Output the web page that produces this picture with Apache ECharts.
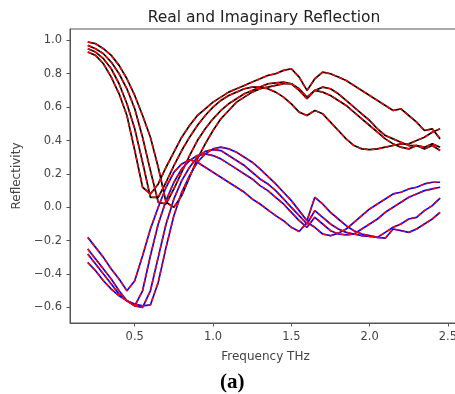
<!DOCTYPE html>
<html>
<head>
<meta charset="utf-8">
<script src="https://cdn.jsdelivr.net/npm/echarts@6/dist/echarts.min.js"></script>
<style>
html, body { margin: 0; padding: 0; background: #fff; }
#chart { width: 455px; height: 394px; }
</style>
</head>
<body>
<div id="chart"></div>
<script>
var freq = [0.20, 0.25, 0.30, 0.35, 0.40, 0.45, 0.50, 0.55, 0.60, 0.65, 0.70, 0.75, 0.80, 0.85, 0.90, 0.95,
    1.00, 1.05, 1.10, 1.15, 1.20, 1.25, 1.30, 1.35, 1.40, 1.45, 1.50, 1.55, 1.60, 1.65, 1.70, 1.75,
    1.80, 1.85, 1.90, 1.95, 2.00, 2.05, 2.10, 2.15, 2.20, 2.25, 2.30, 2.35, 2.40, 2.45];

// real part (black, measured)
var real1 = [0.93, 0.91, 0.86, 0.78, 0.68, 0.55, 0.34, 0.12, 0.08, 0.14, 0.24, 0.33, 0.42, 0.49, 0.55, 0.59,
    0.63, 0.66, 0.69, 0.71, 0.73, 0.75, 0.77, 0.79, 0.80, 0.82, 0.83, 0.78, 0.70, 0.77, 0.81, 0.80,
    0.78, 0.76, 0.73, 0.70, 0.67, 0.64, 0.61, 0.58, 0.59, 0.55, 0.51, 0.46, 0.47, 0.41];
var real2 = [0.95, 0.93, 0.89, 0.83, 0.74, 0.62, 0.47, 0.27, 0.06, 0.06, 0.15, 0.25, 0.34, 0.42, 0.49, 0.55,
    0.60, 0.64, 0.67, 0.69, 0.71, 0.72, 0.72, 0.71, 0.69, 0.66, 0.62, 0.57, 0.55, 0.58, 0.56, 0.51,
    0.46, 0.41, 0.37, 0.35, 0.345, 0.35, 0.36, 0.37, 0.38, 0.38, 0.40, 0.42, 0.45, 0.47];
var real3 = [0.97, 0.95, 0.92, 0.87, 0.80, 0.71, 0.59, 0.42, 0.22, 0.03, 0.02, 0.11, 0.21, 0.31, 0.40, 0.47,
    0.53, 0.58, 0.62, 0.65, 0.68, 0.70, 0.72, 0.74, 0.745, 0.75, 0.74, 0.70, 0.65, 0.70, 0.72, 0.71,
    0.68, 0.64, 0.60, 0.56, 0.52, 0.47, 0.43, 0.41, 0.39, 0.37, 0.37, 0.36, 0.38, 0.36];
var real4 = [0.99, 0.98, 0.95, 0.91, 0.85, 0.77, 0.67, 0.55, 0.42, 0.24, 0.03, 0.00, 0.07, 0.18, 0.29, 0.38,
    0.46, 0.53, 0.58, 0.63, 0.66, 0.69, 0.71, 0.72, 0.73, 0.74, 0.74, 0.71, 0.66, 0.70, 0.69, 0.67,
    0.64, 0.61, 0.57, 0.53, 0.49, 0.45, 0.41, 0.38, 0.36, 0.35, 0.37, 0.35, 0.37, 0.34];

// imaginary part (blue, measured)
var imag1 = [-0.18, -0.24, -0.30, -0.37, -0.43, -0.50, -0.44, -0.29, -0.13, 0.00, 0.12, 0.21, 0.26, 0.285, 0.27, 0.24,
    0.21, 0.18, 0.15, 0.12, 0.09, 0.05, 0.02, -0.015, -0.05, -0.08, -0.12, -0.145, -0.09, -0.12, -0.16, -0.17,
    -0.155, -0.13, -0.09, -0.05, -0.01, 0.02, 0.05, 0.08, 0.09, 0.11, 0.12, 0.14, 0.15, 0.15];
var imag2 = [-0.25, -0.31, -0.37, -0.43, -0.50, -0.56, -0.59, -0.50, -0.29, -0.10, 0.04, 0.15, 0.23, 0.28, 0.31, 0.32,
    0.31, 0.29, 0.26, 0.23, 0.20, 0.17, 0.13, 0.10, 0.06, 0.02, -0.03, -0.08, -0.12, -0.06, -0.10, -0.14,
    -0.16, -0.165, -0.16, -0.13, -0.10, -0.07, -0.03, 0.00, 0.03, 0.06, 0.08, 0.10, 0.11, 0.12];
var imag3 = [-0.28, -0.34, -0.40, -0.46, -0.52, -0.56, -0.59, -0.60, -0.50, -0.30, -0.10, 0.05, 0.16, 0.24, 0.30, 0.335,
    0.345, 0.34, 0.31, 0.28, 0.25, 0.21, 0.17, 0.14, 0.10, 0.05, 0.00, -0.05, -0.10, -0.02, -0.06, -0.10,
    -0.13, -0.15, -0.16, -0.17, -0.175, -0.18, -0.15, -0.12, -0.10, -0.07, -0.06, -0.02, 0.01, 0.055];
var imag4 = [-0.33, -0.38, -0.44, -0.49, -0.53, -0.56, -0.58, -0.59, -0.585, -0.45, -0.24, -0.05, 0.09, 0.19, 0.27, 0.32,
    0.35, 0.36, 0.35, 0.33, 0.30, 0.27, 0.23, 0.185, 0.14, 0.09, 0.04, -0.02, -0.08, 0.06, 0.02, -0.03,
    -0.07, -0.11, -0.14, -0.16, -0.17, -0.18, -0.185, -0.13, -0.14, -0.15, -0.13, -0.10, -0.07, -0.03];

var xTicks = [0.5, 1.0, 1.5, 2.0, 2.5];
var yTicks = [-0.6, -0.4, -0.2, 0.0, 0.2, 0.4, 0.6, 0.8, 1.0];

var pairs = function (ys) {
    return freq.map(function (f, i) { return [f, ys[i]]; });
};

var solid = function (ys, color) {
    return {
        type: 'line',
        data: pairs(ys),
        showSymbol: false,
        lineStyle: { color: color, width: 1.7 },
        z: 2
    };
};

var dashed = function (ys) {
    return {
        type: 'line',
        data: pairs(ys),
        showSymbol: false,
        lineStyle: { color: '#ff0000', width: 1.5, type: [4, 3] },
        z: 3
    };
};

var fmt = function (v) {
    return v.toFixed(1).replace('-', '\u2212');
};

var axisColor = '#555';

var chart = echarts.init(document.getElementById('chart'), null, { renderer: 'canvas' });
chart.setOption({
    animation: false,
    backgroundColor: '#fff',
    title: {
        text: 'Real and Imaginary Reflection',
        left: 259,
        top: 5,
        textAlign: 'center',
        textStyle: { fontFamily: 'DejaVu Sans', fontSize: 15.5, fontWeight: 'normal', color: '#222' }
    },
    grid: {
        left: 70,
        top: 29,
        width: 391,
        height: 294,
        outerBoundsMode: 'none',
        containLabel: false,
        show: true,
        borderColor: axisColor,
        borderWidth: 1
    },
    xAxis: {
        type: 'value',
        min: 0.0865,
        max: 2.5835,
        name: 'Frequency THz',
        nameLocation: 'middle',
        nameGap: 28,
        nameTextStyle: { fontFamily: 'DejaVu Sans', fontSize: 12, color: '#444' },
        axisLine: { show: true, onZero: false, lineStyle: { color: axisColor } },
        axisTick: { show: true, length: 3.5, lineStyle: { color: axisColor }, customValues: xTicks },
        axisLabel: {
            customValues: xTicks, formatter: fmt, margin: 8,
            fontFamily: 'DejaVu Sans', fontSize: 11.5, color: '#444'
        },
        splitLine: { show: false }
    },
    yAxis: {
        type: 'value',
        min: -0.693,
        max: 1.068,
        name: 'Reflectivity',
        nameLocation: 'middle',
        nameGap: 43,
        nameTextStyle: { fontFamily: 'DejaVu Sans', fontSize: 12, color: '#444' },
        axisLine: { show: true, onZero: false, lineStyle: { color: axisColor } },
        axisTick: { show: true, length: 3.5, lineStyle: { color: axisColor }, customValues: yTicks },
        axisLabel: {
            customValues: yTicks, formatter: fmt, margin: 8,
            fontFamily: 'DejaVu Sans', fontSize: 11.5, color: '#444'
        },
        splitLine: { show: false }
    },
    graphic: [{
        type: 'text',
        left: 220,
        top: 372,
        style: { text: '(a)', font: 'bold 21px "Liberation Serif"', fill: '#000' }
    }],
    series: [
        solid(real1, '#000000'), solid(real2, '#000000'), solid(real3, '#000000'), solid(real4, '#000000'),
        solid(imag1, '#0000ff'), solid(imag2, '#0000ff'), solid(imag3, '#0000ff'), solid(imag4, '#0000ff'),
        dashed(real1), dashed(real2), dashed(real3), dashed(real4),
        dashed(imag1), dashed(imag2), dashed(imag3), dashed(imag4)
    ]
});
</script>
</body>
</html>
